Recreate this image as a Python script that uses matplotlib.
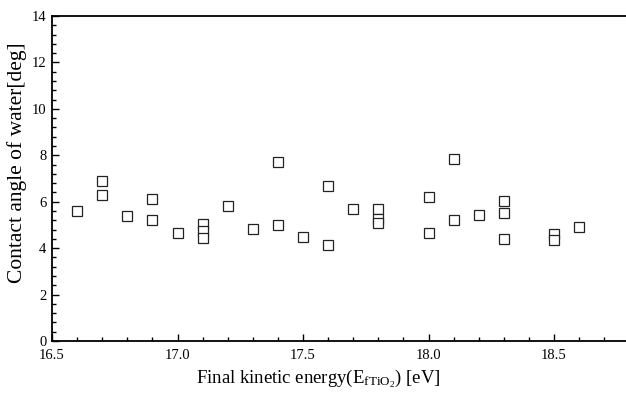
import matplotlib
matplotlib.use("Agg")
import matplotlib.pyplot as plt
from matplotlib.ticker import MultipleLocator, FormatStrFormatter

energy = [16.6, 16.7, 16.7, 16.8, 16.9, 16.9, 17.0, 17.1, 17.1, 17.1, 17.2, 17.3,
          17.4, 17.4, 17.5, 17.6, 17.6, 17.7, 17.8, 17.8, 17.8, 18.0, 18.0, 18.1,
          18.1, 18.2, 18.3, 18.3, 18.3, 18.5, 18.5, 18.6]
angle = [5.62, 6.91, 6.28, 5.37, 6.13, 5.22, 4.64, 5.05, 4.75, 4.45, 5.80, 4.84,
         7.72, 5.00, 4.48, 6.68, 4.14, 5.70, 5.69, 5.24, 5.07, 6.22, 4.67, 7.84,
         5.22, 5.43, 6.05, 5.52, 4.38, 4.62, 4.35, 4.91]

plt.rcParams['font.family'] = ['Liberation Serif', 'DejaVu Serif']
plt.rcParams['mathtext.fontset'] = 'custom'
plt.rcParams['mathtext.rm'] = 'Liberation Serif'
plt.rcParams['mathtext.it'] = 'Liberation Serif:italic'

fig = plt.figure(figsize=(6.26, 3.97), dpi=100)
ax = fig.add_axes([52/626, 56/397, 1 - 52/626, (341-16)/397])
ax.plot(energy, angle, linestyle='none', marker='s', markersize=6.5,
        markerfacecolor='white', markeredgecolor='#222222', markeredgewidth=0.9)

ax.set_xlim(16.5, 16.5 + (626-52)/251.0)
ax.set_ylim(0, 14)
ax.xaxis.set_major_locator(MultipleLocator(0.5))
ax.xaxis.set_minor_locator(MultipleLocator(0.1))
ax.yaxis.set_major_locator(MultipleLocator(2))
ax.yaxis.set_minor_locator(MultipleLocator(0.4))
ax.xaxis.set_major_formatter(FormatStrFormatter('%.1f'))

ax.tick_params(which='both', direction='in', labelsize=10.5, color='black')
ax.tick_params(which='major', length=5, width=1)
ax.tick_params(which='minor', length=3, width=1)
ax.tick_params(axis='x', which='both', pad=6)
ax.tick_params(axis='y', which='both', pad=4)
for s in ['left', 'bottom', 'top']:
    ax.spines[s].set_linewidth(1.3)
ax.spines['right'].set_visible(False)

ax.set_xlabel(r'Final kinetic energy(E$_{\mathrm{fTiO}_{2}}$) [eV]', fontsize=13.5)
ax.xaxis.set_label_coords((318-52)/574, -0.083)
ax.set_ylabel('Contact angle of water[deg]', fontsize=15.5)
ax.yaxis.set_label_coords(-0.044, (341-163)/325)

fig.savefig('out.png', dpi=100)
